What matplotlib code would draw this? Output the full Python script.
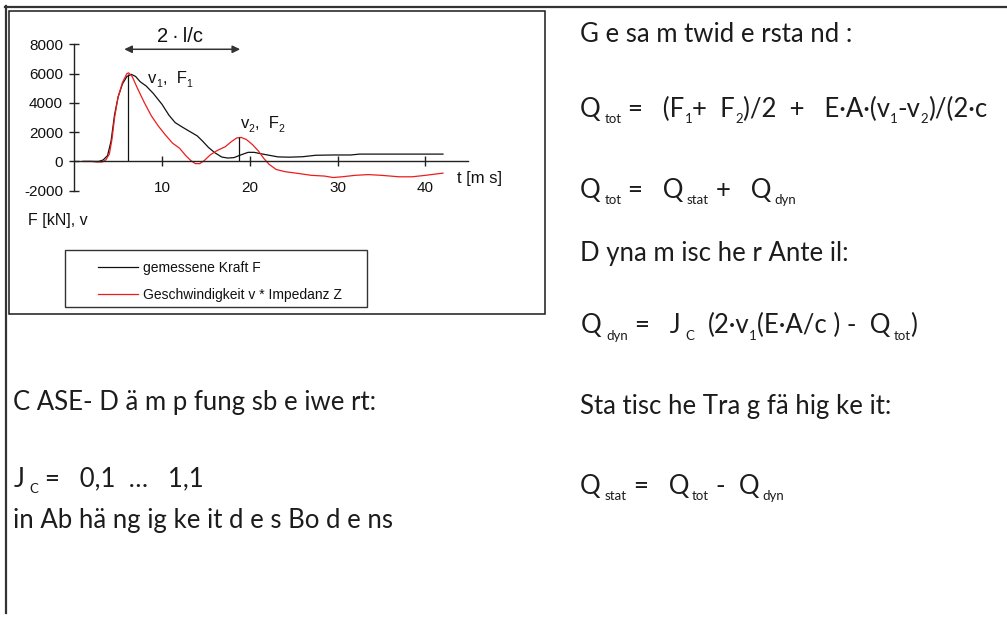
import matplotlib
matplotlib.use("Agg")
import matplotlib.pyplot as plt
from matplotlib import font_manager
from matplotlib.patches import Rectangle
from matplotlib.lines import Line2D
from matplotlib.transforms import IdentityTransform

plt.rcParams["axes.unicode_minus"] = False

# ---- measured signals (time in ms, force in kN) ----
t_force = [1.0, 2.0, 2.8, 3.3, 3.8, 4.2, 4.6, 5.0, 5.5, 6.0, 6.5, 7.0, 7.5, 8.2,
           9.0, 10.0, 10.8, 11.5, 12.3, 13.0, 14.0, 14.6, 15.3, 16.0, 16.8, 17.5,
           18.2, 19.0, 19.8, 20.5, 21.3, 22.2, 23.2, 24.5, 26.0, 27.5, 29.5, 31.5,
           32.5, 35.0, 38.0, 42.0]
force = [0, 0, 0, 100, 400, 1400, 3200, 4400, 5300, 5800, 5950, 5800, 5450, 5150,
         4650, 3900, 3150, 2650, 2350, 2100, 1750, 1400, 950, 600, 300, 230,
         260, 450, 620, 620, 520, 420, 310, 290, 320, 420, 440, 440,
         500, 500, 500, 500]

t_vel = [1.0, 2.0, 2.6, 3.2, 3.6, 4.0, 4.3, 4.6, 5.0, 5.5, 6.0, 6.2, 6.6, 7.2,
         8.0, 8.8, 9.6, 10.4, 11.2, 12.0, 12.7, 13.3, 13.8, 14.3, 14.8, 15.5,
         16.3, 17.2, 17.9, 18.5, 19.0, 19.6, 20.3, 21.0, 21.6, 22.2, 23.0, 24.0,
         25.5, 27.0, 28.5, 29.5, 30.5, 32.0, 33.5, 35.0, 37.0, 38.5, 40.0, 42.0]
vel_impedance = [0, 0, -40, -40, 100, 500, 1500, 3000, 4400, 5400, 6000, 6050, 5800, 5000,
                 4000, 3100, 2400, 1800, 1250, 900, 400, 50, -150, -150, 50, 450,
                 750, 1000, 1350, 1600, 1640, 1500, 1150, 700, 200, -200, -550, -700,
                 -820, -950, -1000, -1100, -1050, -950, -900, -950, -1050, -1050, -950, -800]

# characteristic readings: first peak and reflection after 2*l/c
t_peaks = [6.15, 18.8]
v_peaks = [6000, 1650]
wave_window = [5.7, 18.9]

x_ticks = [10, 20, 30, 40]
y_ticks = [-2000, 0, 2000, 4000, 6000, 8000]
legend_labels = ["gemessene Kraft F", "Geschwindigkeit v * Impedanz Z"]

W, H = 1007, 619
fig = plt.figure(figsize=(W / 100, H / 100), dpi=100)
renderer = fig.canvas.get_renderer()

names = {f.name for f in font_manager.fontManager.ttflist}
NARROW = "Liberation Sans Narrow" if "Liberation Sans Narrow" in names else "Liberation Sans"
BODY = "Lato" if "Lato" in names else "DejaVu Sans"
INK = "#1c1c1c"


def fx(x):
    return x / W


def fy(y):
    return 1 - y / H


def text_width(s, size, family):
    t = fig.text(0, 0, s, fontsize=size, family=family)
    w = t.get_window_extent(renderer).width
    t.remove()
    return w


def draw_runs(x, y, parts, size, sub_size, sub_drop, family=BODY, color=INK, space=1.0):
    """Draw a line made of normal and subscript pieces; x, y in display pixels (baseline).
    A float entry in parts is an extra horizontal gap in pixels."""
    sp = (text_width("a a", size, family) - text_width("aa", size, family)) * space
    for item in parts:
        if isinstance(item, (int, float)):
            x += item
            continue
        s, is_sub = item
        fs = sub_size if is_sub else size
        lead = len(s) - len(s.lstrip(" "))
        trail = len(s) - len(s.rstrip(" "))
        core = s.strip(" ")
        x += lead * sp
        if core:
            fig.text(x, y - (sub_drop if is_sub else 0), core, fontsize=fs,
                     family=family, color=color, va="baseline", ha="left",
                     transform=IdentityTransform())
            x += text_width(core, fs, family)
        x += trail * sp
    return x


def page(x, y):
    """top-left pixel coordinates -> display pixels"""
    return x, H - y


# ---- page frame ----
fig.add_artist(Line2D([fx(5), fx(W)], [fy(6.7), fy(6.7)], color="#333333", lw=1.6))
fig.add_artist(Line2D([fx(5.8), fx(5.8)], [fy(6), fy(613)], color="#333333", lw=1.6))
fig.add_artist(Rectangle((fx(9), fy(314)), fx(545) - fx(9), fy(10.5) - fy(314),
                         fill=False, edgecolor="#1a1a1a", lw=1.1))

# ---- chart ----
ax = fig.add_axes([fx(74.2), fy(190.7), fx(468) - fx(74.2), fy(44.3) - fy(190.7)])
ax.set_xlim(0, 44.85)
ax.set_ylim(-2000, 8000)
ax.patch.set_alpha(0)
for side in ("top", "right"):
    ax.spines[side].set_visible(False)
ax.spines["bottom"].set_position(("data", 0))
for side in ("left", "bottom"):
    ax.spines[side].set_color("#222222")
    ax.spines[side].set_linewidth(1.0)

ax.plot(t_force, force, color="#111111", lw=0.9, label=legend_labels[0])
ax.plot(t_vel, vel_impedance, color="#ee1c1c", lw=0.9, label=legend_labels[1])
ax.vlines(t_peaks, 0, v_peaks, color="#111111", lw=0.9)

ax.set_xticks(x_ticks)
ax.set_yticks(y_ticks)
ax.tick_params(axis="both", direction="inout", length=7, width=1.0, color="#222222",
               labelsize=11, labelcolor="#111111")
ax.tick_params(axis="x", pad=10.3)
ax.tick_params(axis="y", pad=4.5)
for lab in ax.get_xticklabels() + ax.get_yticklabels():
    lab.set_family(NARROW)

ax.annotate("", xy=(wave_window[1], 7660), xytext=(wave_window[0], 7660),
            arrowprops=dict(arrowstyle="<|-|>,head_length=0.45,head_width=0.22",
                            color="#333333", lw=1.1, shrinkA=0, shrinkB=0),
            annotation_clip=False)
ax.text(sum(wave_window) / 2 - 0.2, 8180, "2\u2009·\u2009l/c", ha="center", va="baseline",
        fontsize=14.5, family=NARROW, color="#111111", clip_on=False)

ax.text(43.56, -1453, "t [m s]", ha="left", va="baseline", fontsize=12,
        family=NARROW, color="#111111", clip_on=False)
fig.text(fx(27.7), fy(225), "F [kN], v", ha="left", va="baseline", fontsize=11.5,
         family=NARROW, color="#111111")

x1, y1 = ax.transData.transform((8.44, 5340))
draw_runs(x1, y1, [("v", False), ("1", True), (",  F", False), ("1", True)],
          12, 7.5, 4, family=NARROW, color="#111111")
x2, y2 = ax.transData.transform((18.94, 2263))
draw_runs(x2, y2, [("v", False), ("2", True), (",  F", False), ("2", True)],
          12, 7.5, 4, family=NARROW, color="#111111")

# legend
fig.add_artist(Rectangle((fx(65.3), fy(307.3)), fx(366.7) - fx(65.3), fy(250) - fy(307.3),
                         fill=False, edgecolor="#333333", lw=1.0))
leg = ax.legend(loc="upper left", bbox_to_anchor=(fx(97.7), fy(260.8)),
                bbox_transform=fig.transFigure, frameon=False, borderpad=0,
                borderaxespad=0, handlelength=2.9, handletextpad=0.36,
                labelspacing=0.95, prop={"family": NARROW, "size": 10})
for txt in leg.get_texts():
    txt.set_color("#111111")

# ---- formulas (right column) ----
fs, sfs, drop = 18.5, 9.5, 6.5
draw_runs(*page(580, 41.7), [("G e sa m twid e rsta nd :", False)], fs, sfs, drop)
draw_runs(*page(580, 116.7),
          [("Q", False), 4.0, ("tot", True), (" =   (F", False), ("1", True), ("+  F", False),
           ("2", True), (")/2  +   E·A·(v", False), ("1", True), ("-v", False), ("2", True),
           (")/(2·c", False)], fs, sfs, drop)
draw_runs(*page(580, 197.5),
          [("Q", False), 4.0, ("tot", True), (" =   Q", False), 3.0, ("stat", True),
           (" +   Q", False), 3.0, ("dyn", True)], fs, sfs, drop)
draw_runs(*page(580, 261.5), [("D yna m isc he r Ante il:", False)], fs, sfs, drop)
draw_runs(*page(580.7, 333.3),
          [("Q", False), 5.0, ("dyn", True), (" =   J", False), 5.0, ("C", True),
           ("  (2·v", False), ("1", True), ("(E·A/c ) -  Q", False), 3.0, ("tot", True),
           (")", False)], fs, sfs, drop)
draw_runs(*page(580, 414), [("Sta tisc he Tra g fä hig ke it:", False)], fs, sfs, drop)
draw_runs(*page(580, 494),
          [("Q", False), 4.0, ("stat", True), (" =   Q", False), 3.0, ("tot", True),
           (" -  Q", False), 3.0, ("dyn", True)], fs, sfs, drop)

# ---- damping factor (left column) ----
draw_runs(*page(13.3, 410), [("C ASE- D ä m p fung sb e iwe rt:", False)], fs, sfs, drop)
draw_runs(*page(13.3, 486.7),
          [("J", False), 5.0, ("C", True), (" =   0,1  …   1,1", False)], fs, sfs, drop)
draw_runs(*page(13.3, 528.3), [("in Ab hä ng ig ke it d e s Bo d e ns", False)], fs, sfs, drop)

fig.savefig("out.png", dpi=100)
